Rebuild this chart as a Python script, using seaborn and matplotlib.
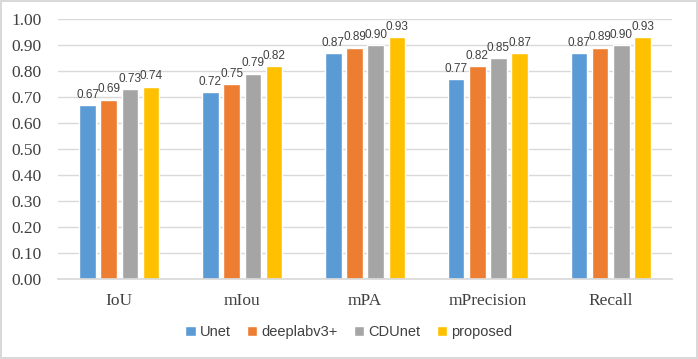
import matplotlib
matplotlib.use("Agg")
import matplotlib.pyplot as plt
import pandas as pd
import seaborn as sns

# Метрики и модели
metrics = ["IoU", "mIou", "mPA", "mPrecision", "Recall"]
models = ["Unet", "deeplabv3+", "CDUnet", "proposed"]
unet = [0.67, 0.72, 0.87, 0.77, 0.87]
deeplab = [0.69, 0.75, 0.89, 0.82, 0.89]
cdunet = [0.73, 0.79, 0.90, 0.85, 0.90]
proposed = [0.74, 0.82, 0.93, 0.87, 0.93]
yticks = [i / 10 for i in range(11)]

PALETTE = ["#5B9BD5", "#ED7D31", "#A5A5A5", "#FFC000"]

rows = []
for model, vals in zip(models, [unet, deeplab, cdunet, proposed]):
    for m, v in zip(metrics, vals):
        rows.append({"metric": m, "model": model, "value": v})
df = pd.DataFrame(rows)

sns.set_theme(style="white")
plt.rcParams["font.family"] = ["Liberation Serif", "DejaVu Serif"]

fig = plt.figure(figsize=(6.98, 3.59), dpi=100)
fig.patch.set_edgecolor("#D9D9D9")
fig.patch.set_linewidth(1.5)
ax = fig.add_axes([0.083, 0.223, 0.88, 0.724])

sns.barplot(data=df, x="metric", y="value", hue="model", order=metrics,
            hue_order=models, palette=PALETTE, width=0.69, gap=0.22,
            saturation=1, ax=ax, legend=True)

for cont in ax.containers:
    ax.bar_label(cont, fmt="%.2f", padding=3, fontsize=8.5, color="#404040",
                 family="Liberation Sans")

ax.set_ylim(0, 1.0)
ax.set_yticks(yticks)
ax.set_yticklabels([f"{t:.2f}" for t in yticks])
ax.yaxis.grid(True, color="#D9D9D9", lw=1)
ax.set_axisbelow(True)
for s in ["left", "right", "top"]:
    ax.spines[s].set_visible(False)
ax.spines["bottom"].set_color("#D9D9D9")
ax.tick_params(axis="both", length=0, labelsize=12.5, colors="#404040")
ax.tick_params(axis="y", pad=12)
ax.tick_params(axis="x", pad=10)
ax.set_xlabel("")
ax.set_ylabel("")

handles, labels = ax.get_legend_handles_labels()
ax.get_legend().remove()
fig.legend(handles, labels, loc="center", bbox_to_anchor=(0.5, 0.075), ncol=4,
           frameon=False, handlelength=0.7, handleheight=0.7,
           handletextpad=0.3, columnspacing=1.1,
           prop={"family": "Liberation Sans", "size": 10.5},
           labelcolor="#404040")

fig.savefig("out.png", dpi=100)
